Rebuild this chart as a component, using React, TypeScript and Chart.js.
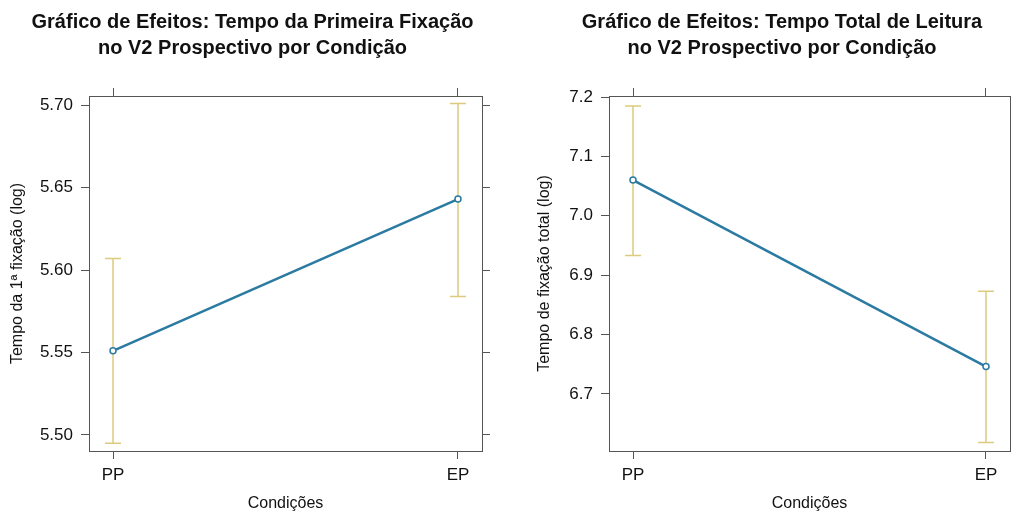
import React, { useEffect, useRef } from "react";
import { Chart, registerables } from "chart.js";

Chart.register(...registerables);

// ---- data ----
const conditions = ["PP", "EP"];

const firstFixationFit = [5.551, 5.643];
const firstFixationLower = [5.495, 5.584];
const firstFixationUpper = [5.607, 5.701];
const firstFixationTicks = [5.5, 5.55, 5.6, 5.65, 5.7];

const totalReadingFit = [7.06, 6.746];
const totalReadingLower = [6.933, 6.618];
const totalReadingUpper = [7.185, 6.873];
const totalReadingTicks = [6.7, 6.8, 6.9, 7.0, 7.1, 7.2];

// ---- style ----
const FONT = "'Liberation Sans', Arial, Helvetica, sans-serif";
const LINE_COLOR = "#2a7aa1";
const CI_COLOR = "#dccb7e";
const AXIS_COLOR = "#555555";
const TEXT_COLOR = "#111111";

type PanelSpec = {
  title: string[];
  yTitle: string;
  xTitle: string;
  fit: number[];
  lower: number[];
  upper: number[];
  yTicks: number[];
  yMin: number;
  yMax: number;
  decimals: number;
  xPad: number;
  canvasLeft: number;
  canvasWidth: number;
  areaLeft: number;
  areaRight: number;
  yTitlePad: number;
};

const CANVAS_H = 513;
const AREA_TOP = 96;
const AREA_BOTTOM = 451;
const TITLE_PAD_TOP = 9;
const TITLE_LINE_H = 26;
const TITLE_SIZE = 20;

function makeErrorBars(lower: number[], upper: number[]) {
  return {
    id: "errorBars",
    beforeDatasetsDraw(chart: any) {
      const xs = chart.scales.x;
      const ys = chart.scales.y;
      const ctx = chart.ctx;
      ctx.save();
      ctx.strokeStyle = CI_COLOR;
      ctx.lineWidth = 1.5;
      lower.forEach((lo, i) => {
        const px = xs.getPixelForValue(i);
        const y1 = ys.getPixelForValue(lo);
        const y2 = ys.getPixelForValue(upper[i]);
        ctx.beginPath();
        ctx.moveTo(px, y1);
        ctx.lineTo(px, y2);
        ctx.moveTo(px - 8, y1);
        ctx.lineTo(px + 8, y1);
        ctx.moveTo(px - 8, y2);
        ctx.lineTo(px + 8, y2);
        ctx.stroke();
      });
      ctx.restore();
    },
  };
}

function Panel({ spec }: { spec: PanelSpec }) {
  const ref = useRef<HTMLCanvasElement | null>(null);

  useEffect(() => {
    if (!ref.current) return;
    const tickFont = { family: FONT, size: 17 };
    const titleFont = { family: FONT, size: 16 };
    const catTicks = (s: any) => {
      s.ticks = conditions.map((_, i) => ({ value: i }));
    };
    const yTickBuild = (s: any) => {
      s.ticks = spec.yTicks.map((v) => ({ value: v }));
    };
    const grid = {
      drawOnChartArea: false,
      drawTicks: true,
      tickLength: 8,
      color: AXIS_COLOR,
      lineWidth: 1,
    };
    const border = { display: true, color: AXIS_COLOR, width: 1 };
    const topH = AREA_TOP - (TITLE_PAD_TOP + TITLE_LINE_H * spec.title.length);

    const chart = new Chart(ref.current, {
      type: "line",
      data: {
        datasets: [
          {
            data: spec.fit.map((v, i) => ({ x: i, y: v })),
            borderColor: LINE_COLOR,
            borderWidth: 2.5,
            pointRadius: 3,
            pointBorderWidth: 1.5,
            pointBorderColor: LINE_COLOR,
            pointBackgroundColor: "#ffffff",
            xAxisID: "x",
            yAxisID: "y",
          } as any,
        ],
      },
      options: {
        animation: false,
        responsive: false,
        devicePixelRatio: 1,
        layout: { padding: 0 },
        plugins: {
          legend: { display: false },
          tooltip: { enabled: false },
          title: {
            display: true,
            text: spec.title,
            color: TEXT_COLOR,
            font: { family: FONT, size: TITLE_SIZE, weight: "bold", lineHeight: TITLE_LINE_H / TITLE_SIZE },
            padding: { top: TITLE_PAD_TOP, bottom: 0 },
          },
        },
        scales: {
          x: {
            type: "linear",
            position: "bottom",
            min: -spec.xPad,
            max: 1 + spec.xPad,
            afterBuildTicks: catTicks,
            grid,
            border,
            ticks: {
              font: tickFont,
              color: TEXT_COLOR,
              padding: 6,
              autoSkip: false,
              maxRotation: 0,
              callback: (v: any) => conditions[Math.round(Number(v))] ?? "",
            },
            title: {
              display: true,
              text: spec.xTitle,
              font: titleFont,
              color: TEXT_COLOR,
              padding: { top: 0, bottom: 0 },
            },
            afterFit: (s: any) => {
              s.height = CANVAS_H - AREA_BOTTOM;
            },
          },
          x2: {
            type: "linear",
            position: "top",
            min: -spec.xPad,
            max: 1 + spec.xPad,
            afterBuildTicks: catTicks,
            grid,
            border,
            ticks: { display: false },
            afterFit: (s: any) => {
              s.height = topH;
            },
          },
          y: {
            type: "linear",
            position: "left",
            min: spec.yMin,
            max: spec.yMax,
            afterBuildTicks: yTickBuild,
            grid,
            border,
            ticks: {
              font: tickFont,
              color: TEXT_COLOR,
              padding: 8,
              callback: (v: any) => Number(v).toFixed(spec.decimals),
            },
            title: {
              display: true,
              text: spec.yTitle,
              font: titleFont,
              color: TEXT_COLOR,
              padding: { top: spec.yTitlePad, bottom: 0 },
            },
            afterFit: (s: any) => {
              s.width = spec.areaLeft;
            },
          },
          y2: {
            type: "linear",
            position: "right",
            min: spec.yMin,
            max: spec.yMax,
            afterBuildTicks: yTickBuild,
            grid,
            border,
            ticks: { display: false },
            afterFit: (s: any) => {
              s.width = spec.canvasWidth - spec.areaRight;
            },
          },
        } as any,
      },
      plugins: [makeErrorBars(spec.lower, spec.upper)],
    });
    return () => chart.destroy();
  }, [spec]);

  return (
    <canvas
      ref={ref}
      width={spec.canvasWidth}
      height={CANVAS_H}
      style={{
        position: "absolute",
        left: spec.canvasLeft,
        top: 0,
        width: spec.canvasWidth,
        height: CANVAS_H,
      }}
    />
  );
}

const leftPanel: PanelSpec = {
  title: ["Gráfico de Efeitos: Tempo da Primeira Fixação", "no V2 Prospectivo por Condição"],
  yTitle: "Tempo da 1ª fixação (log)",
  xTitle: "Condições",
  fit: firstFixationFit,
  lower: firstFixationLower,
  upper: firstFixationUpper,
  yTicks: firstFixationTicks,
  yMin: 5.4903,
  yMax: 5.7055,
  decimals: 2,
  xPad: 0.0696,
  canvasLeft: 0,
  canvasWidth: 505,
  areaLeft: 89,
  areaRight: 482,
  yTitlePad: 8,
};

const rightPanel: PanelSpec = {
  title: ["Gráfico de Efeitos: Tempo Total de Leitura", "no V2 Prospectivo por Condição"],
  yTitle: "Tempo de fixação total (log)",
  xTitle: "Condições",
  fit: totalReadingFit,
  lower: totalReadingLower,
  upper: totalReadingUpper,
  yTicks: totalReadingTicks,
  yMin: 6.6037,
  yMax: 7.2017,
  decimals: 1,
  xPad: 0.068,
  canvasLeft: 530,
  canvasWidth: 504,
  areaLeft: 79,
  areaRight: 480,
  yTitlePad: 5,
};

export default function App() {
  return (
    <div
      style={{
        position: "absolute",
        left: 0,
        top: 0,
        width: 1011,
        height: 513,
        overflow: "hidden",
        background: "#ffffff",
      }}
    >
      <Panel spec={leftPanel} />
      <Panel spec={rightPanel} />
    </div>
  );
}
